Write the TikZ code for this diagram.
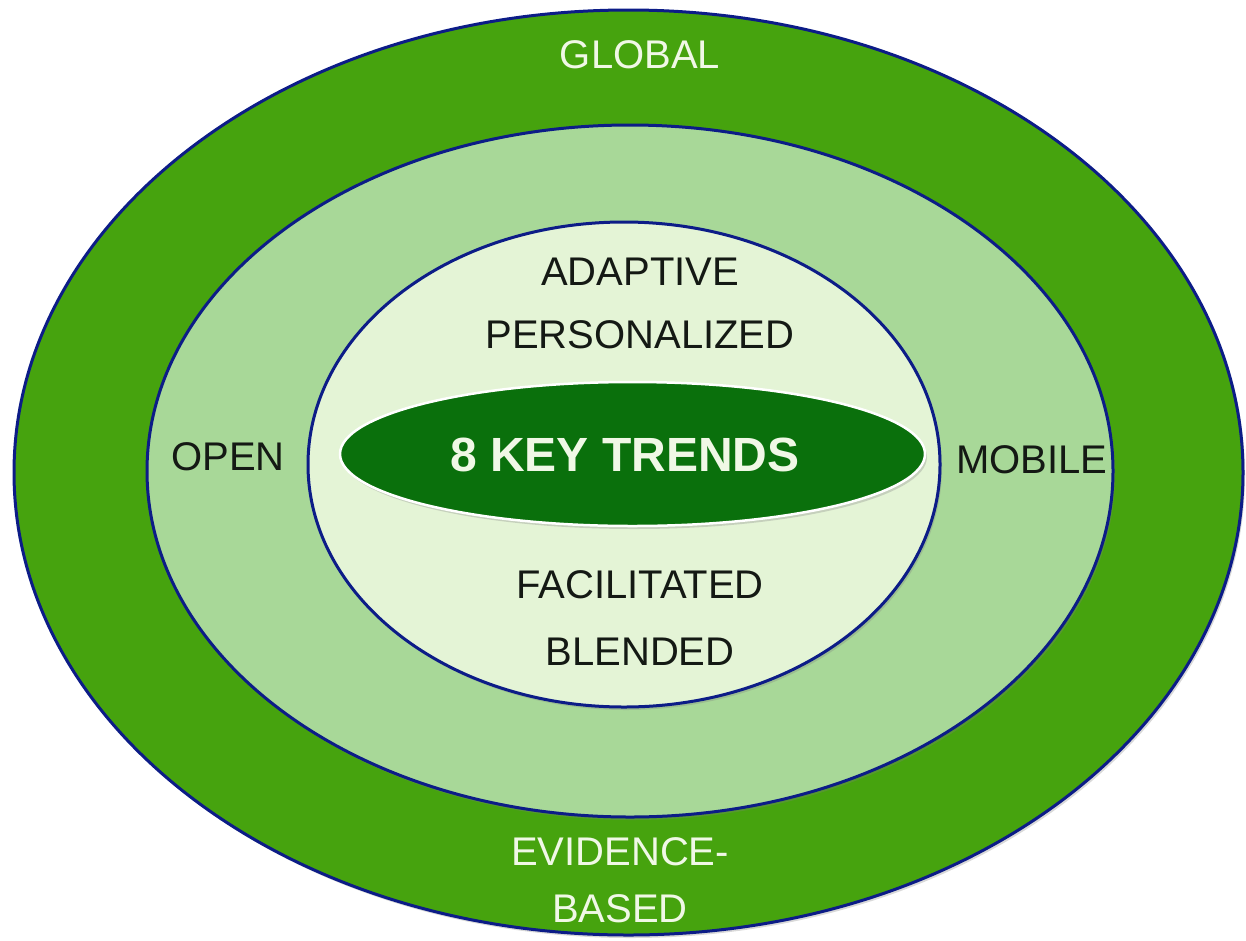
\documentclass[tikz,border=0pt]{standalone}
\usepackage{fontspec}
\setmainfont{Liberation Sans}
\usetikzlibrary{shapes.geometric, shadows}
\definecolor{ringnavy}{RGB}{12, 28, 135}
\definecolor{outergreen}{RGB}{70, 163, 14}
\definecolor{midgreen}{RGB}{168, 216, 152}
\definecolor{innergreen}{RGB}{228, 244, 214}
\definecolor{coregreen}{RGB}{10, 112, 12}
\definecolor{labelwhite}{RGB}{240, 248, 230}
\definecolor{labelblack}{RGB}{20, 25, 20}

\begin{document}
\begin{tikzpicture}[x=1pt, y=-1pt,
  ring/.style={ellipse, draw=ringnavy, line width=3pt, inner sep=0pt,
    drop shadow={shadow xshift=2pt, shadow yshift=-3pt, opacity=0.3}},
  trend/.style={font=\fontsize{40}{57}\selectfont, text=labelblack, inner sep=0pt, align=center},
  wtrend/.style={trend, text=labelwhite}]
  \useasboundingbox (0,0) rectangle (1246,940);

  % rings
  \node[ring, fill=outergreen, minimum width=1229pt, minimum height=925pt] (outer) at (628.5, 472.5) {};
  \node[ring, fill=midgreen, minimum width=966pt, minimum height=692pt] (middle) at (630, 471) {};
  \node[ring, fill=innergreen, minimum width=632pt, minimum height=485pt] (inner) at (624, 464.5) {};

  % core
  \node[ellipse, fill=coregreen, draw=white, line width=2.5pt, inner sep=0pt,
    minimum width=585pt, minimum height=144pt,
    drop shadow={shadow xshift=2pt, shadow yshift=-3pt, opacity=0.3}] (core) at (632.5, 454) {};
  \node[font=\fontsize{48}{52}\selectfont\bfseries, text=labelwhite, inner sep=0pt] (title) at (625, 455) {8 KEY TRENDS};

  % outer ring
  \node[wtrend] (global) at (640, 55) {GLOBAL};
  \node[wtrend] (evidence) at (620, 880) {EVIDENCE-\\BASED};

  % middle ring
  \node[trend] (open) at (228, 457) {OPEN};
  \node[trend] (mobile) at (1032, 460) {MOBILE};

  % inner ring
  \node[trend] (adaptive) at (640, 272) {ADAPTIVE};
  \node[trend] (personal) at (640, 335) {PERSONALIZED};
  \node[trend] (facil) at (640, 585) {FACILITATED};
  \node[trend] (blended) at (640, 652) {BLENDED};
\end{tikzpicture}
\end{document}
